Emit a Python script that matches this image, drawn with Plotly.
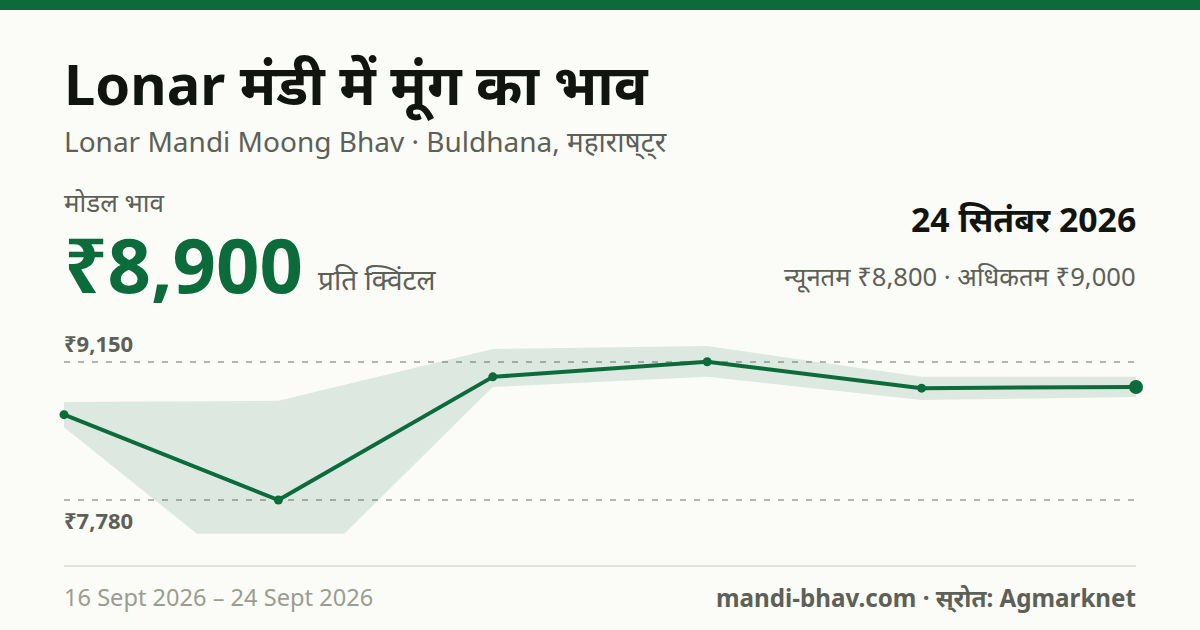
import plotly.graph_objects as go

dates = ["16 Sept", "17 Sept", "19 Sept", "20 Sept", "23 Sept", "24 Sept"]
modal = [8625, 7780, 9000, 9150, 8888, 8900]
upper = [8750, 8762, 9275, 9305, 9000, 9000]
lower = [8500, 6800, 8900, 9000, 8770, 8800]
tick_vals = [7780, 9150]
tick_text = ["₹7,780", "₹9,150"]

W, H = 1200, 630
FONT = "Noto Sans, Noto Sans Devanagari, sans-serif"
GREEN = "#0b6b3a"
DARK = "#12150f"
GREY = "#5c6056"
LIGHT = "#9a9d8f"

fig = go.Figure()
fig.add_trace(go.Scatter(x=dates, y=upper, mode="lines", line=dict(width=0, color="rgba(0,0,0,0)"),
                         hoverinfo="skip", showlegend=False))
fig.add_trace(go.Scatter(x=dates, y=lower, mode="lines", line=dict(width=0, color="rgba(0,0,0,0)"),
                         fill="tonexty", fillcolor="rgba(11,90,58,0.12)", hoverinfo="skip", showlegend=False))
fig.add_trace(go.Scatter(x=dates, y=modal, mode="lines+markers", cliponaxis=False,
                         line=dict(color=GREEN, width=4),
                         marker=dict(color=GREEN, opacity=1, size=[9, 9, 9, 9, 9, 14], line=dict(width=0)),
                         showlegend=False))


def px_x(x):
    return x / W


def px_y(y):
    return 1 - y / H


def label(x, y, text, size, color, bold=False, anchor="left"):
    fig.add_annotation(xref="paper", yref="paper", x=px_x(x), y=px_y(y), text=f"<b>{text}</b>" if bold else text,
                       showarrow=False, xanchor=anchor, yanchor="middle", borderpad=0, borderwidth=0,
                       font=dict(family=FONT, size=size, color=color))


label(64, 83, "Lonar मंडी में मूंग का भाव", 56, DARK, True)
label(64, 141, "Lonar Mandi Moong Bhav · Buldhana, महाराष\u094d\u200cट\u094d\u200cर", 28, GREY)
label(64, 202, "मोडल भाव", 26, GREY)
label(64, 263, "₹8,900", 76, GREEN, True)
label(318, 279, "प्रति क्विंटल", 28, GREY)
label(1136, 219, "24 सितंबर 2026", 33.8, DARK, True, "right")
label(1136, 276, "न्यूनतम ₹8,800 · अधिकतम ₹9,000", 25.6, GREY, False, "right")
label(64, 597, "16 Sept 2026 – 24 Sept 2026", 23.6, LIGHT)
label(1136, 597, "mandi-bhav.com · स\u094d\u200cरोत: Agmarknet", 24.2, GREY, True, "right")
label(64, 343, tick_text[1], 22, GREY, True)
label(64, 520, tick_text[0], 22, GREY, True)

fig.add_shape(type="rect", xref="paper", yref="paper", x0=0, x1=1, y0=px_y(10), y1=1,
              fillcolor=GREEN, line=dict(width=0), layer="above")
fig.add_shape(type="line", xref="paper", yref="paper", x0=px_x(64), x1=px_x(1136), y0=px_y(566), y1=px_y(566),
              line=dict(color="#e0e3dc", width=2))

fig.update_layout(
    width=W, height=H, autosize=False,
    margin=dict(l=0, r=0, t=0, b=0),
    paper_bgcolor="#fbfcf8", plot_bgcolor="rgba(0,0,0,0)",
    showlegend=False, hovermode=False,
    xaxis=dict(domain=[px_x(64), px_x(1136)], type="category", range=[0, 5], visible=False, showgrid=False, zeroline=False),
    yaxis=dict(domain=[px_y(533.7), px_y(340)], range=[7446, 9365], tickvals=tick_vals, ticktext=tick_text,
               showticklabels=False, ticks="", showline=False, zeroline=False,
               showgrid=True, gridcolor="#b4b7af", gridwidth=1.5, griddash="6px,8px"),
)

fig.write_html("out.html", post_script="document.body.style.margin='0';document.body.style.overflow='hidden';",
               config={"displayModeBar": False})
